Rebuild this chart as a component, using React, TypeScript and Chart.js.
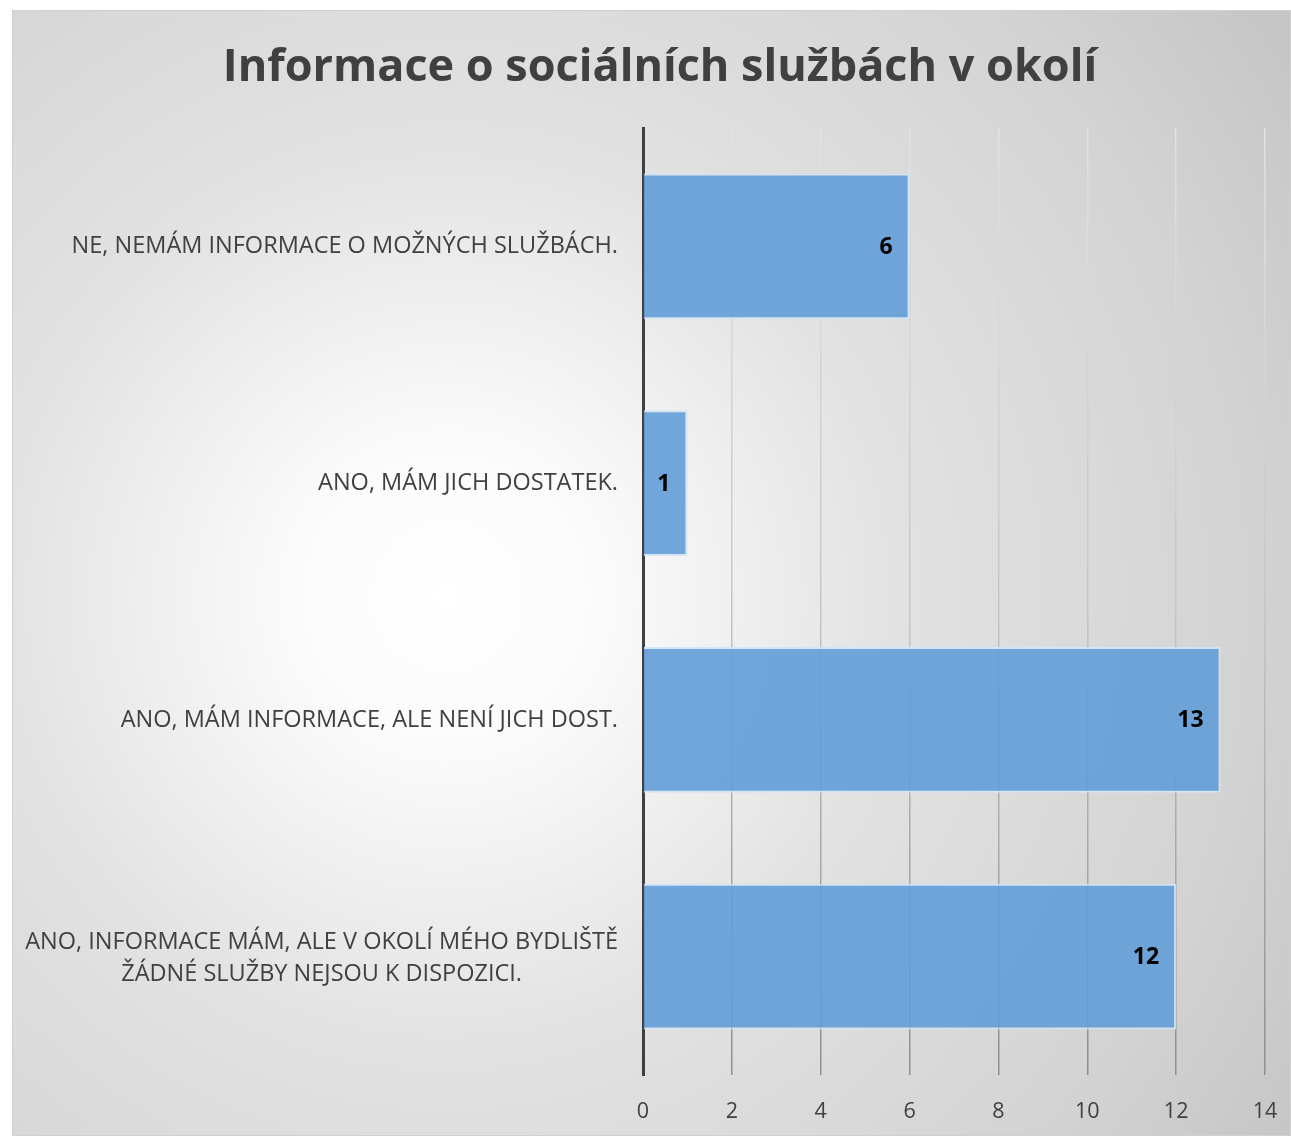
import React, { useEffect, useRef } from "react";
import { Chart, registerables } from "chart.js";

Chart.register(...registerables);

const TITLE = "Informace o sociálních službách v okolí";
const categories: string[][] = [
  ["NE, NEMÁM INFORMACE O MOŽNÝCH SLUŽBÁCH."],
  ["ANO, MÁM JICH DOSTATEK."],
  ["ANO, MÁM INFORMACE, ALE NENÍ JICH DOST."],
  ["ANO, INFORMACE MÁM, ALE V OKOLÍ MÉHO BYDLIŠTĚ", "ŽÁDNÉ SLUŽBY NEJSOU K DISPOZICI."],
];
const values: number[] = [6, 1, 13, 12];
const xMin = 0;
const xMax = 14;
const xStep = 2;

const FONT = "'Open Sans', 'Noto Sans', sans-serif";
const TEXT_COLOR = "#404040";

const backgroundPlugin = {
  id: "bgGradient",
  beforeDraw(chart: any) {
    const { ctx, width, height } = chart;
    ctx.save();
    const cx = width * 0.34;
    const cy = height * 0.52;
    const g = ctx.createRadialGradient(cx, cy, 0, cx, cy, 1000);
    g.addColorStop(0, "#ffffff");
    g.addColorStop(0.15, "#fbfbfb");
    g.addColorStop(0.45, "#e2e2e2");
    g.addColorStop(0.8, "#d3d3d3");
    g.addColorStop(1, "#c6c6c6");
    ctx.fillStyle = g;
    ctx.fillRect(0, 0, width, height);
    ctx.strokeStyle = "#d0d0d0";
    ctx.lineWidth = 1;
    ctx.strokeRect(0.5, 0.5, width - 1, height - 1);
    ctx.restore();
  },
};

const labelsPlugin = {
  id: "catLabels",
  afterDraw(chart: any) {
    const { ctx } = chart;
    const y = chart.scales.y;
    const right = chart.chartArea.left - 25;
    ctx.save();
    ctx.font = `23.5px ${FONT}`;
    ctx.fillStyle = TEXT_COLOR;
    ctx.textBaseline = "middle";
    ctx.textAlign = "center";
    const lh = 32;
    categories.forEach((lines, i) => {
      const cy = y.getPixelForValue(i);
      const maxW = Math.max(...lines.map((l) => ctx.measureText(l).width));
      const cx = right - maxW / 2;
      const start = cy - ((lines.length - 1) * lh) / 2 + (lines.length > 1 ? 2 : 0);
      lines.forEach((l, j) => ctx.fillText(l, cx, start + j * lh));
    });
    ctx.restore();
  },
};

const valuePlugin = {
  id: "valueLabels",
  afterDatasetsDraw(chart: any) {
    const { ctx } = chart;
    const meta = chart.getDatasetMeta(0);
    ctx.save();
    ctx.font = `bold 23px ${FONT}`;
    ctx.fillStyle = "#000000";
    ctx.textAlign = "right";
    ctx.textBaseline = "middle";
    meta.data.forEach((el: any, i: number) => {
      ctx.fillText(String(values[i]), el.x - 17, el.y + 1);
    });
    ctx.restore();
  },
};

export default function App() {
  const ref = useRef<HTMLCanvasElement>(null);
  useEffect(() => {
    if (!ref.current) return;
    const chart = new Chart(ref.current, {
      type: "bar",
      data: {
        labels: categories.map((c) => c.join(" ")),
        datasets: [
          {
            data: values,
            backgroundColor: "rgba(98, 157, 214, 0.9)",
            borderColor: "rgba(210, 228, 246, 0.9)",
            borderWidth: 2,
            barPercentage: 0.615,
            categoryPercentage: 1,
          },
        ],
      },
      options: {
        indexAxis: "y",
        animation: false,
        responsive: false,
        maintainAspectRatio: false,
        layout: { padding: { left: 43, right: 26, top: 0, bottom: 14 } },
        plugins: {
          legend: { display: false },
          tooltip: { enabled: false },
          title: {
            display: true,
            text: TITLE,
            color: TEXT_COLOR,
            font: { family: FONT, size: 45, weight: "bold" },
            padding: { top: 31, bottom: 33 },
          },
        },
        scales: {
          x: {
            min: xMin,
            max: xMax,
            ticks: {
              stepSize: xStep,
              color: TEXT_COLOR,
              font: { family: FONT, size: 21.5 },
              padding: 24,
            },
            grid: {
              drawTicks: false,
              lineWidth: 1.5,
              color: (c: any) => {
                const area = c.chart.chartArea;
                if (!area) return "#c0c0c0";
                const g = c.chart.ctx.createLinearGradient(0, area.top, 0, area.bottom);
                g.addColorStop(0, "#e2e2e2");
                g.addColorStop(0.5, "#c6c6c6");
                g.addColorStop(1, "#8e8e8e");
                return g;
              },
            },
            border: { display: false },
            afterFit: (s: any) => {
              s.height = 47;
              s.paddingRight = 0;
              s.paddingLeft = 0;
            },
          },
          y: {
            ticks: { display: false },
            grid: { display: false, drawTicks: false },
            border: { display: true, color: "#404040", width: 3 },
            afterFit: (s: any) => {
              s.width = 588;
            },
          },
        },
      },
      plugins: [backgroundPlugin, labelsPlugin, valuePlugin],
    });
    return () => chart.destroy();
  }, []);
  return (
    <div style={{ position: "absolute", left: 12, top: 10, width: 1279, height: 1126 }}>
      <canvas ref={ref} width={1279} height={1126} style={{ width: 1279, height: 1126, display: "block" }} />
    </div>
  );
}
